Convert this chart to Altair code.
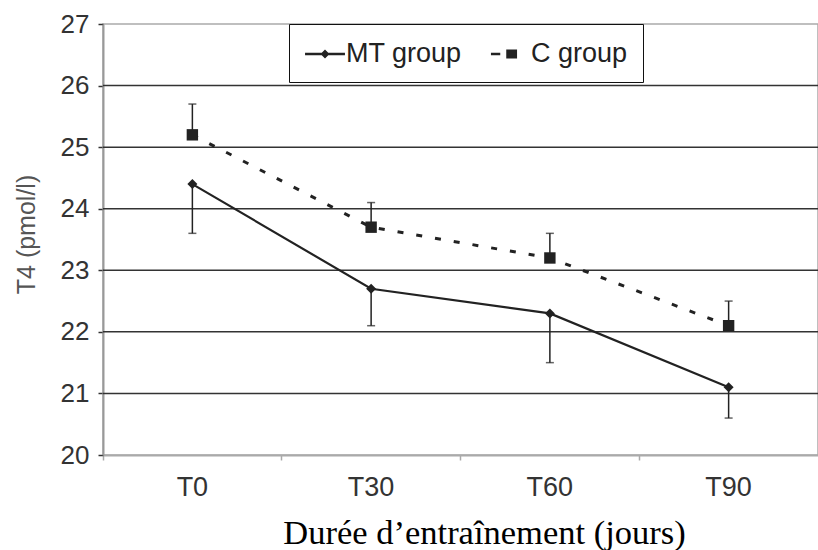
import altair as alt
import pandas as pd

categories = ["T0", "T30", "T60", "T90"]
mt_mean = [24.4, 22.7, 22.3, 21.1]
mt_low = [23.6, 22.1, 21.5, 20.6]
c_mean = [25.2, 23.7, 23.2, 22.1]
c_high = [25.7, 24.1, 23.6, 22.5]
groups = ["MT group", "C group"]
y_ticks = [20, 21, 22, 23, 24, 25, 26, 27]
grid_values = [21, 22, 23, 24, 25, 26]

mt = pd.DataFrame({"time": categories, "value": mt_mean, "err": mt_low, "group": groups[0]})
cg = pd.DataFrame({"time": categories, "value": c_mean, "err": c_high, "group": groups[1]})
both = pd.concat([mt, cg], ignore_index=True)
grid = pd.DataFrame({"g": grid_values})

PLOT_W, PLOT_H = 715, 431

x_enc = alt.X(
    "time:N",
    sort=categories,
    scale=alt.Scale(domain=categories, paddingInner=0, paddingOuter=0),
    axis=alt.Axis(
        title="Durée d\u2019entraînement (jours)",
        labelAngle=0,
        bandPosition=0,
        domainColor="#aaaaaa",
        domainWidth=2,
        tickColor="#aaaaaa",
        tickWidth=1.5,
        tickSize=5,
        labelPadding=14,
        labelFont="Liberation Sans",
        labelFontSize=27,
        labelColor="#333333",
        titleFont="Liberation Serif",
        titleFontSize=34.5,
        titleFontWeight="normal",
        titleColor="#000000",
        titleX=381,
        titleY=88,
        titleBaseline="alphabetic",
        titleAlign="center",
    ),
)

y_scale = alt.Scale(domain=[20, 27], nice=False, zero=False)
y_axis = alt.Axis(
    title="T4 (pmol/l)",
    values=y_ticks,
    grid=False,
    domainColor="#999999",
    domainWidth=2,
    tickColor="#333333",
    tickWidth=1.5,
    tickSize=5,
    labelPadding=9,
    labelFont="Liberation Sans",
    labelFontSize=26,
    labelColor="#333333",
    titleFont="Liberation Sans",
    titleFontSize=25,
    titleFontWeight="normal",
    titleColor="#555555",
    titleX=-77,
    titleY=210,
    titleAngle=-90,
    titleAlign="center",
    titleBaseline="middle",
)
y_enc = alt.Y("value:Q", scale=y_scale, axis=y_axis)

grid_layer = alt.Chart(grid).mark_rule(color="#333333", strokeWidth=1.5).encode(
    y=alt.Y("g:Q", scale=y_scale, axis=y_axis)
)

# legend glyphs (filled outlines): line + diamond, dash + square
path_mt = "M-0.93,-0.08H1.73V0.08H-0.93ZM0.1,0L0.4,-0.3L0.7,0L0.4,0.3Z"
path_c = "M-0.87,-0.09H-0.25V0.09H-0.87ZM0.15,-0.3H0.87V0.3H0.15Z"

legend_layer = alt.Chart(both).mark_point(
    filled=True, size=1, color="#222222"
).encode(
    x=x_enc,
    y=y_enc,
    opacity=alt.value(0),
    shape=alt.Shape(
        "group:N",
        scale=alt.Scale(domain=groups, range=[path_mt, path_c]),
        legend=alt.Legend(
            title=None,
            orient="none",
            legendX=186,
            legendY=0,
            direction="horizontal",
            fillColor="white",
            strokeColor="#111111",
            padding=15,
            symbolSize=900,
            symbolFillColor="#222222",
            symbolStrokeColor="#222222",
            symbolStrokeWidth=0,
            symbolOpacity=1,
            labelFont="Liberation Sans",
            labelFontSize=27,
            labelColor="#222222",
            labelOffset=12,
            columnPadding=27,
        ),
    ),
)

line_mt = alt.Chart(mt).mark_line(color="#222222", strokeWidth=2.2).encode(x=x_enc, y=y_enc)
line_c = alt.Chart(cg).mark_line(color="#222222", strokeWidth=3, strokeDash=[6, 13]).encode(x=x_enc, y=y_enc)

err_rule = alt.Chart(both).mark_rule(color="#222222", strokeWidth=1.5).encode(
    x=x_enc, y=y_enc, y2="err:Q"
)
err_cap = alt.Chart(both).mark_tick(color="#222222", thickness=1.5, size=8).encode(
    x=x_enc, y=alt.Y("err:Q", scale=y_scale, axis=y_axis)
)

pts_mt = alt.Chart(mt).mark_point(shape="diamond", filled=True, size=100, color="#222222", opacity=1).encode(
    x=x_enc, y=y_enc
)
pts_c = alt.Chart(cg).mark_point(shape="square", filled=True, size=130, color="#222222", opacity=1).encode(
    x=x_enc, y=y_enc
)

chart = (
    alt.layer(grid_layer, legend_layer, line_mt, line_c, err_rule, err_cap, pts_mt, pts_c)
    .properties(
        width=PLOT_W,
        height=PLOT_H,
        autosize=alt.AutoSizeParams(type="none"),
        padding={"left": 103, "top": 24, "right": 0, "bottom": 95},
        background="white",
    )
    .configure_view(stroke="#aaaaaa", strokeWidth=1.5)
)

chart.save("out.html", embed_options={"renderer": "svg", "actions": False})
